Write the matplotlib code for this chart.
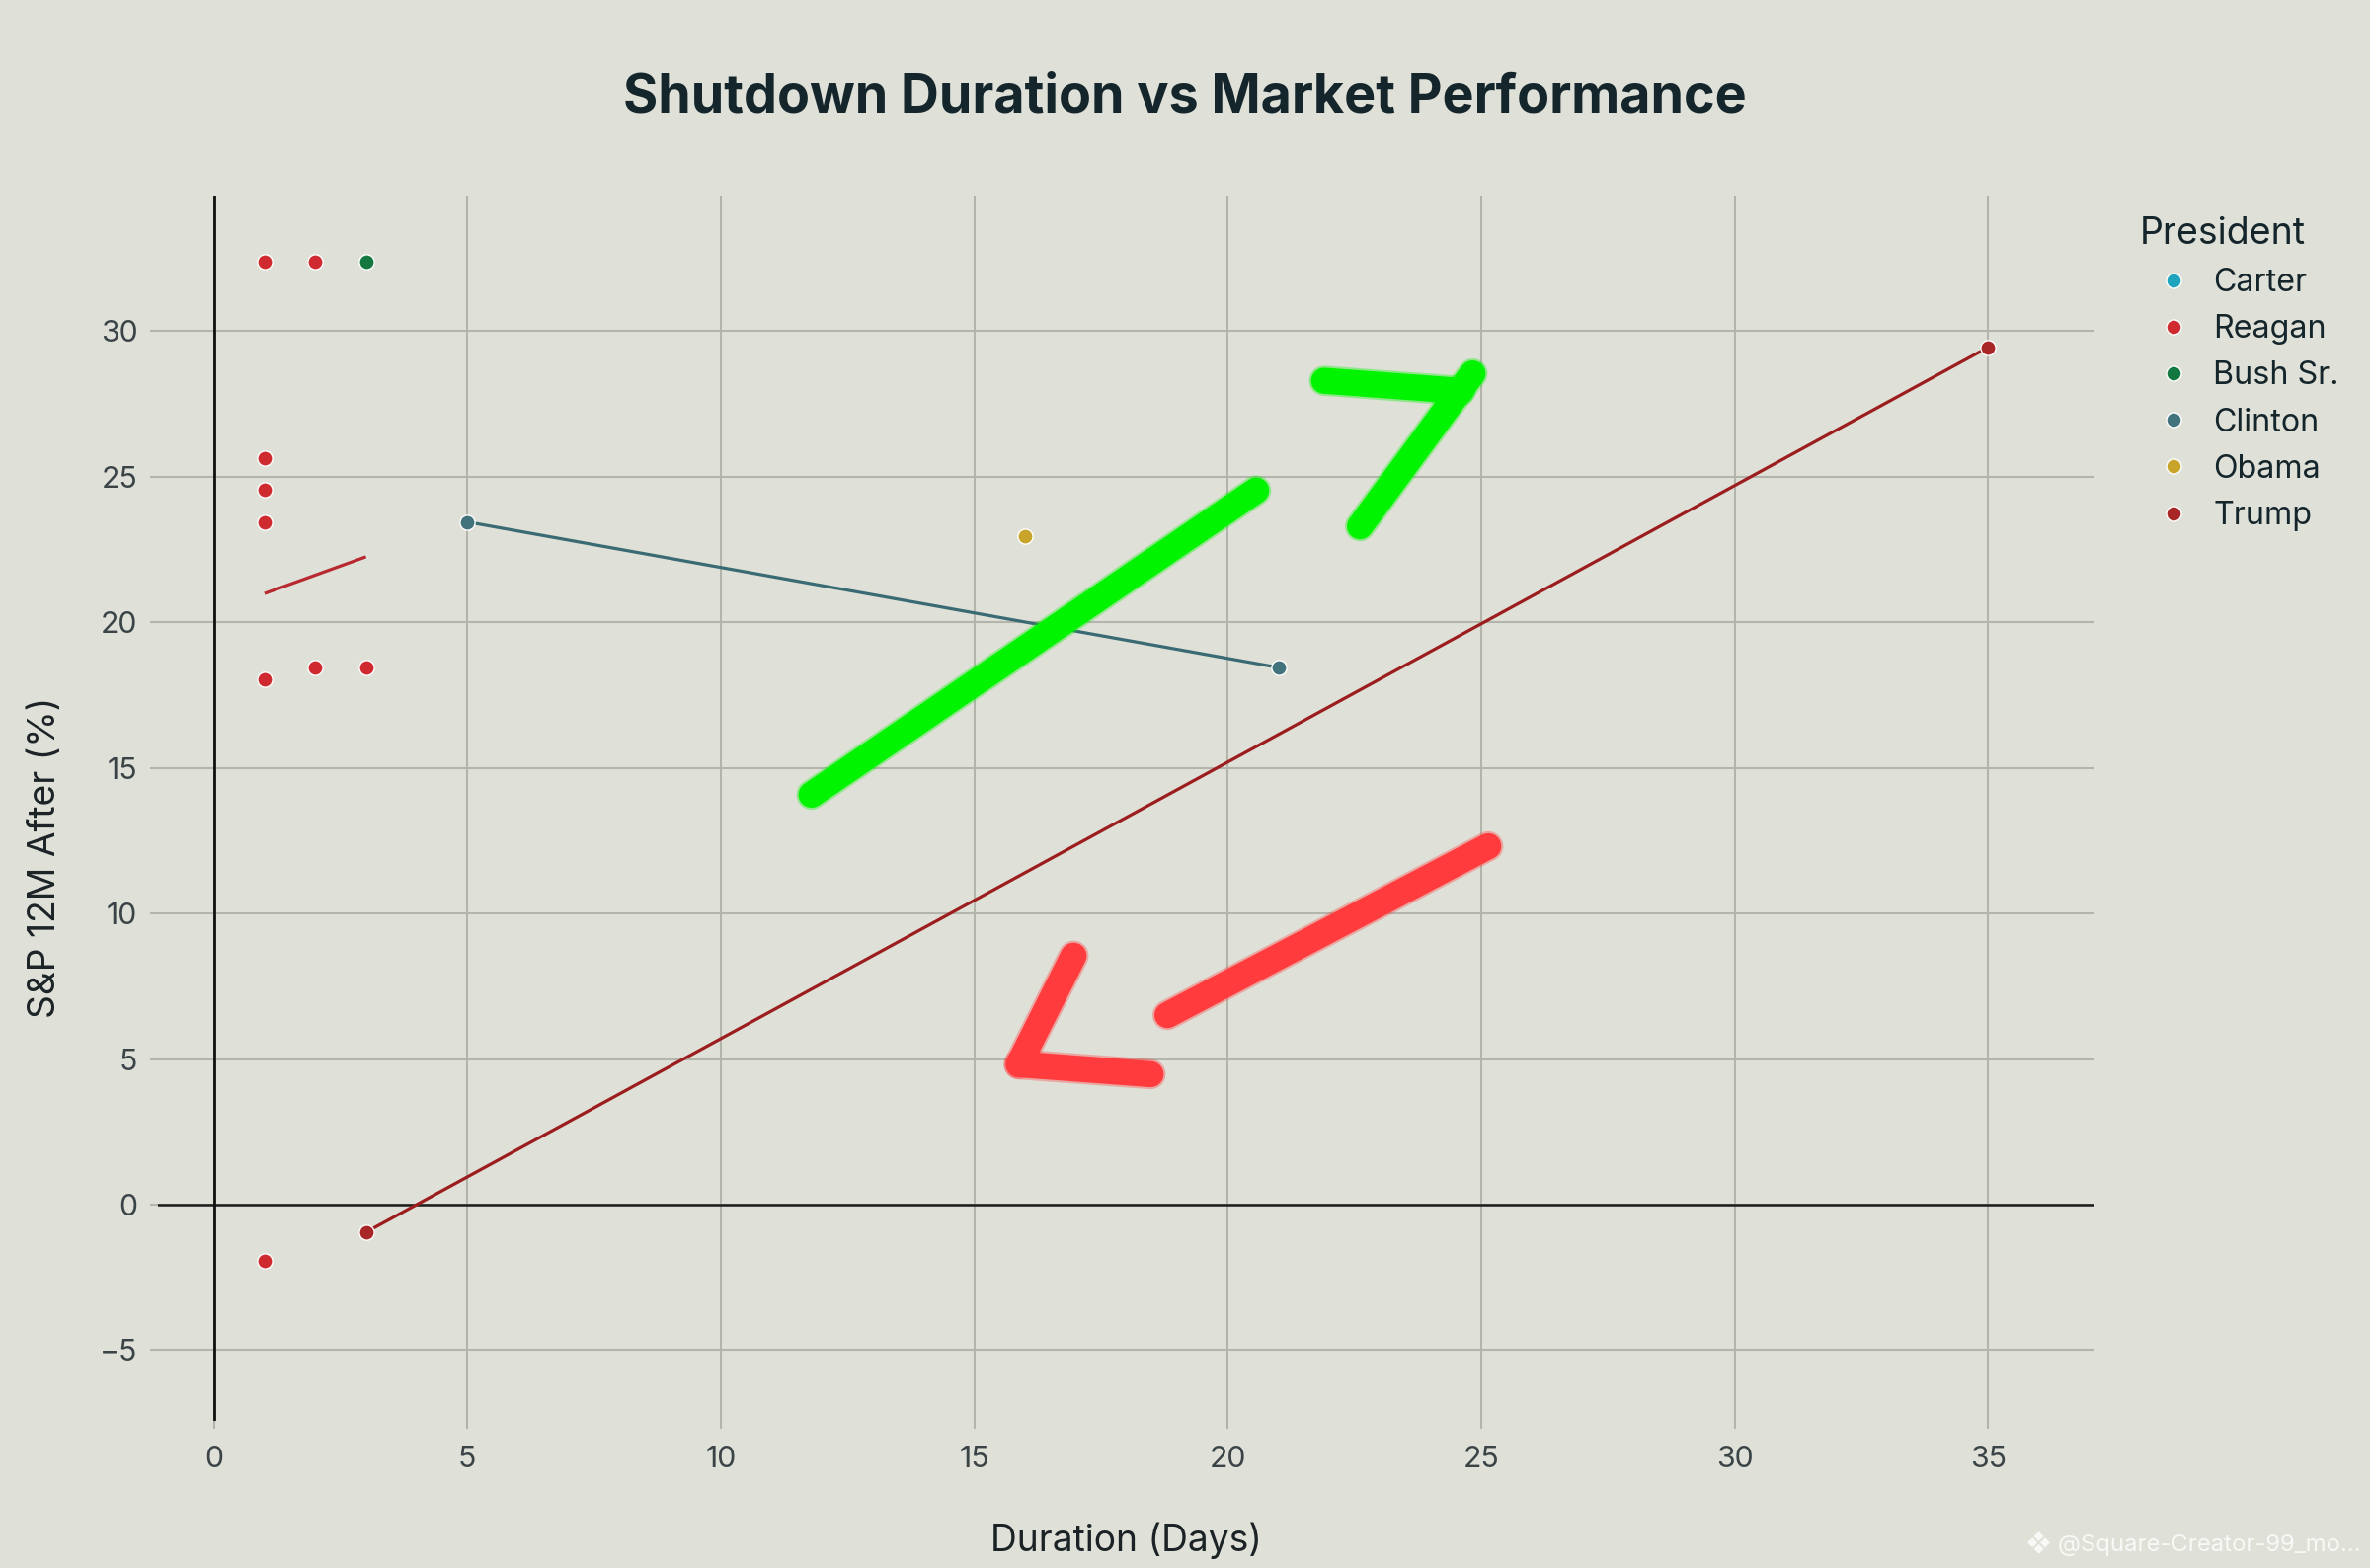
import matplotlib
matplotlib.use("Agg")
import matplotlib.pyplot as plt
import numpy as np
from matplotlib.lines import Line2D

plt.rcParams["font.family"] = ["Inter", "DejaVu Sans"]

# shutdown length (days) vs S&P 500 change 12 months later (%)
presidents = ["Carter", "Reagan", "Bush Sr.", "Clinton", "Obama", "Trump"]
colors = ["#1ea5bd", "#cf2a30", "#13783f", "#41737c", "#c9a42a", "#a82626"]
line_colors = ["#1ea5bd", "#b8292f", "#13783f", "#3a6a73", "#c9a42a", "#9c1d1d"]

carter_days = []  # in the legend, no points drawn
carter_sp = []
reagan_days = [1, 2, 1, 1, 1, 1, 2, 3, 1]
reagan_sp = [32.4, 32.4, 25.65, 24.55, 23.45, 18.05, 18.45, 18.45, -1.95]
bush_days = [3]
bush_sp = [32.4]
clinton_days = [5, 21]
clinton_sp = [23.45, 18.45]
obama_days = [16]
obama_sp = [22.95]
trump_days = [3, 35]
trump_sp = [-0.95, 29.45]

all_days = [carter_days, reagan_days, bush_days, clinton_days, obama_days, trump_days]
all_sp = [carter_sp, reagan_sp, bush_sp, clinton_sp, obama_sp, trump_sp]

x_ticks = [0, 5, 10, 15, 20, 25, 30, 35]
y_ticks = [-5, 0, 5, 10, 15, 20, 25, 30]

bg = "#dfe0d7"
grid_c = "#b3b4ab"
text_c = "#3a4447"

fig = plt.figure(figsize=(12, 7.94), dpi=200, facecolor=bg)
ax = fig.add_axes([0.0667, 0.0938, 0.8171, 0.7809], facecolor=bg)

for days, sp, c, lc in zip(all_days, all_sp, colors, line_colors):
    if len(days) == 0:
        continue
    d = np.array(days, dtype=float)
    s = np.array(sp, dtype=float)
    # per-president linear trend
    if len(np.unique(d)) > 1:
        k, b = np.polyfit(d, s, 1)
        xs = np.array([d.min(), d.max()])
        ax.plot(xs, k * xs + b, color=lc, lw=1.15, zorder=3, solid_capstyle="butt")
    ax.scatter(d, s, s=30, color=c, edgecolor="white", linewidth=0.5, zorder=4)

ax.set_xlim(-1.1, 37.1)
ax.set_ylim(-7.43, 34.63)
ax.set_xticks(x_ticks)
ax.set_yticks(y_ticks)
ax.set_yticklabels([str(v).replace("-", "\u2212") for v in y_ticks])
ax.grid(True, color=grid_c, lw=0.75, zorder=0)
ax.set_axisbelow(True)
ax.axhline(0, color="#1c1c1c", lw=0.9, zorder=2)
ax.axvline(0, color="#111111", lw=1.0, zorder=2)
for sp_ in ax.spines.values():
    sp_.set_visible(False)
ax.tick_params(axis="both", length=3, width=0.75, color=grid_c,
               labelsize=10.9, labelcolor=text_c)
ax.tick_params(axis="x", pad=6)
ax.tick_params(axis="y", pad=4.5)

ax.set_xlabel("Duration (Days)", fontsize=13.4, color="#1b2326")
ax.xaxis.set_label_coords(0.5, -0.0976)
ax.xaxis.label.set_verticalalignment("center")
ax.set_ylabel("S&P 12M After (%)", fontsize=13.4, color="#1b2326")
ax.yaxis.set_label_coords(-0.0581, 0.4605)
ax.yaxis.label.set_verticalalignment("center")

fig.text(0.5, 0.9377, "Shutdown Duration vs Market Performance", ha="center",
         va="center", fontsize=19.4, fontweight="bold", color="#14252b")

handles = [Line2D([], [], ls="none", marker="o", ms=5.4, mfc=c, mec="white",
                  mew=0.5) for c in colors]
leg = ax.legend(handles, presidents, title="President", loc="upper left",
                bbox_to_anchor=(0.903, 0.862), bbox_transform=fig.transFigure,
                frameon=False, fontsize=11.6, title_fontsize=13.5,
                handlelength=2.1, handletextpad=0.2, labelspacing=0.5,
                borderpad=0, borderaxespad=0, alignment="left")
for t in leg.get_texts():
    t.set_color("#14252b")
leg.get_title().set_color("#14252b")

# hand-drawn arrows on top of the chart
green_strokes = [
    ([11.79, 20.56], [14.08, 24.53]),
    ([21.9, 24.6], [28.3, 27.95]),
    ([22.61, 24.83], [23.3, 28.55]),
]
red_strokes = [
    ([18.81, 25.14], [6.51, 12.31]),
    ([15.88, 16.96], [4.82, 8.55]),
    ([15.88, 18.48], [4.82, 4.48]),
]
for strokes, c in [(green_strokes, "#00f400"), (red_strokes, "#ff3b3d")]:
    for xs, ys in strokes:
        ax.plot(xs, ys, color=c, lw=11, alpha=0.35, solid_capstyle="round", zorder=9)
        ax.plot(xs, ys, color=c, lw=9.5, solid_capstyle="round", zorder=10)

fig.text(0.996, 0.0157, "\u2756 @Square-Creator-99_mo...", ha="right", va="center",
         fontsize=8.6, color="white", alpha=0.8)

fig.savefig("out.png", dpi=200, facecolor=bg)
